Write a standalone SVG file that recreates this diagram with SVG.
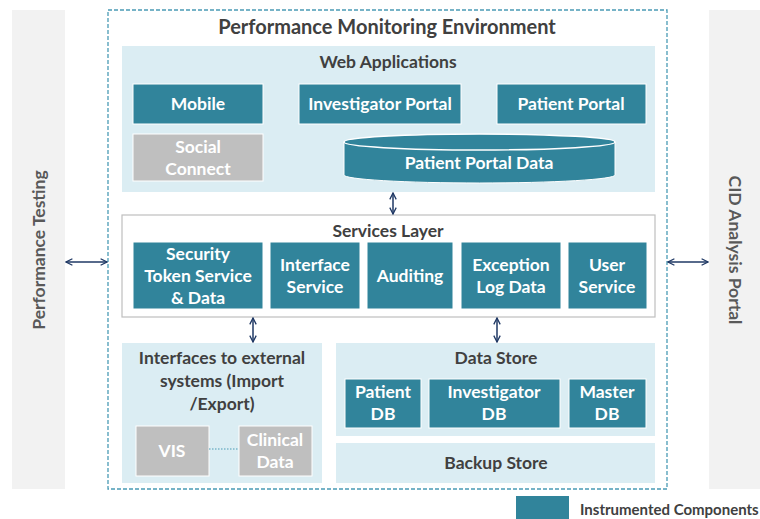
<svg xmlns="http://www.w3.org/2000/svg" width="760" height="519" viewBox="0 0 760 519">
<defs>
<marker id="ah" viewBox="0 0 10 10" refX="9" refY="5" markerWidth="8" markerHeight="8" orient="auto-start-reverse" markerUnits="userSpaceOnUse">
<path d="M1,1 L9,5 L1,9" fill="none" stroke="#1f3864" stroke-width="1.6"/>
</marker>
<style>
text{font-family:Lato,"Liberation Sans",sans-serif;font-weight:bold;text-anchor:middle}
.t{fill:#31849b;stroke:#ffffff;stroke-width:1}
.g{fill:#bfbfbf;stroke:#ffffff;stroke-width:1}
.p{fill:#dbedf3}
.w{fill:#ffffff;font-size:17.5px}
.h{fill:#404040;font-size:17.5px}
.side{fill:#f2f2f2}
.st{fill:#595959;font-size:17.5px}
.c{fill:none;stroke:#1f3864;stroke-width:1.5;marker-start:url(#ah);marker-end:url(#ah)}
</style>
</defs>
<rect width="760" height="519" fill="#ffffff"/>
<g id="performance-testing">
<rect class="side" x="12" y="10" width="53" height="479"/>
<text class="st" transform="translate(45,250) rotate(-90)">Performance Testing</text>
</g>
<g id="cid-analysis-portal">
<rect class="side" x="709" y="10" width="51" height="479"/>
<text class="st" transform="translate(729,250) rotate(90)">CID Analysis Portal</text>
</g>
<g id="environment">
<rect x="108" y="10" width="559" height="479" fill="none" stroke="#4a9bb5" stroke-width="1.3" stroke-dasharray="4,2"/>
<text class="h" x="387" y="34" style="font-size:20px">Performance Monitoring Environment</text>
</g>
<g id="web-applications">
<rect class="p" x="122" y="46" width="533" height="146"/>
<text class="h" x="388" y="68">Web Applications</text>
</g>
<g id="mobile"><rect class="t" x="133" y="84" width="130" height="40"/><text class="w" x="198" y="110">Mobile</text></g>
<g id="investigator-portal"><rect class="t" x="299" y="84" width="162" height="40"/><text class="w" x="380" y="110">Investigator Portal</text></g>
<g id="patient-portal"><rect class="t" x="497" y="84" width="149" height="40"/><text class="w" x="571" y="110">Patient Portal</text></g>
<g id="social-connect"><rect class="g" x="133" y="134" width="130" height="47"/><text class="w" x="198" y="153">Social</text><text class="w" x="198" y="175">Connect</text></g>
<g id="patient-portal-data">
<path d="M344,142 L344,175 A135.5,8 0 0 0 615,175 L615,142 Z" fill="#31849b" stroke="#ffffff" stroke-width="1"/>
<ellipse cx="479.5" cy="142" rx="135.5" ry="8" fill="#31849b" stroke="#ffffff" stroke-width="1.5"/>
<text class="w" x="479" y="169">Patient Portal Data</text>
</g>
<g id="services-layer">
<rect x="122" y="215" width="533" height="102" fill="#ffffff" stroke="#bfbfbf" stroke-width="1.2"/>
<text class="h" x="388" y="237">Services Layer</text>
</g>
<g id="security-token"><rect class="t" x="133" y="242" width="130" height="67"/><text class="w" x="198" y="260">Security</text><text class="w" x="198" y="282">Token Service</text><text class="w" x="198" y="304">&amp; Data</text></g>
<g id="interface-service"><rect class="t" x="270" y="242" width="90" height="67"/><text class="w" x="315" y="271">Interface</text><text class="w" x="315" y="293">Service</text></g>
<g id="auditing"><rect class="t" x="367" y="242" width="86" height="67"/><text class="w" x="410" y="282">Auditing</text></g>
<g id="exception-log"><rect class="t" x="461" y="242" width="100" height="67"/><text class="w" x="511" y="271">Exception</text><text class="w" x="511" y="293">Log Data</text></g>
<g id="user-service"><rect class="t" x="568" y="242" width="79" height="67"/><text class="w" x="607" y="271">User</text><text class="w" x="607" y="293">Service</text></g>
<g id="interfaces-external">
<rect class="p" x="122" y="343" width="200" height="140"/>
<text class="h" x="222" y="364">Interfaces to external</text>
<text class="h" x="222" y="387">systems (Import</text>
<text class="h" x="222" y="410">/Export)</text>
</g>
<g id="vis"><rect class="g" x="136" y="426" width="73" height="50"/><text class="w" x="172" y="457">VIS</text></g>
<g id="clinical-data"><rect class="g" x="239" y="426" width="73" height="50"/><text class="w" x="275" y="446">Clinical</text><text class="w" x="275" y="468">Data</text></g>
<g id="data-store">
<rect class="p" x="336" y="343" width="319" height="93"/>
<text class="h" x="496" y="364">Data Store</text>
</g>
<g id="patient-db"><rect class="t" x="345" y="379" width="76" height="49"/><text class="w" x="383" y="398">Patient</text><text class="w" x="383" y="420">DB</text></g>
<g id="investigator-db"><rect class="t" x="429" y="379" width="131" height="49"/><text class="w" x="494" y="398">Investigator</text><text class="w" x="494" y="420">DB</text></g>
<g id="master-db"><rect class="t" x="569" y="379" width="77" height="49"/><text class="w" x="607" y="398">Master</text><text class="w" x="607" y="420">DB</text></g>
<g id="backup-store"><rect class="p" x="336" y="443" width="319" height="40"/><text class="h" x="496" y="469">Backup Store</text></g>
<g id="legend">
<rect x="516" y="496" width="53" height="23" fill="#31849b"/>
<text x="580" y="515" style="fill:#404040;font-size:15px;text-anchor:start">Instrumented Components</text>
</g>
<g id="connectors">
<line class="c" x1="66" y1="262" x2="107" y2="262"/>
<line class="c" x1="668" y1="262" x2="708" y2="262"/>
<line class="c" x1="393" y1="193" x2="393" y2="214"/>
<line class="c" x1="253" y1="318" x2="253" y2="342"/>
<line class="c" x1="497" y1="318" x2="497" y2="342"/>
<line x1="209" y1="449" x2="239" y2="449" stroke="#4a9bb5" stroke-width="1.2" stroke-dasharray="1.5,1.5"/>
</g>
</svg>
